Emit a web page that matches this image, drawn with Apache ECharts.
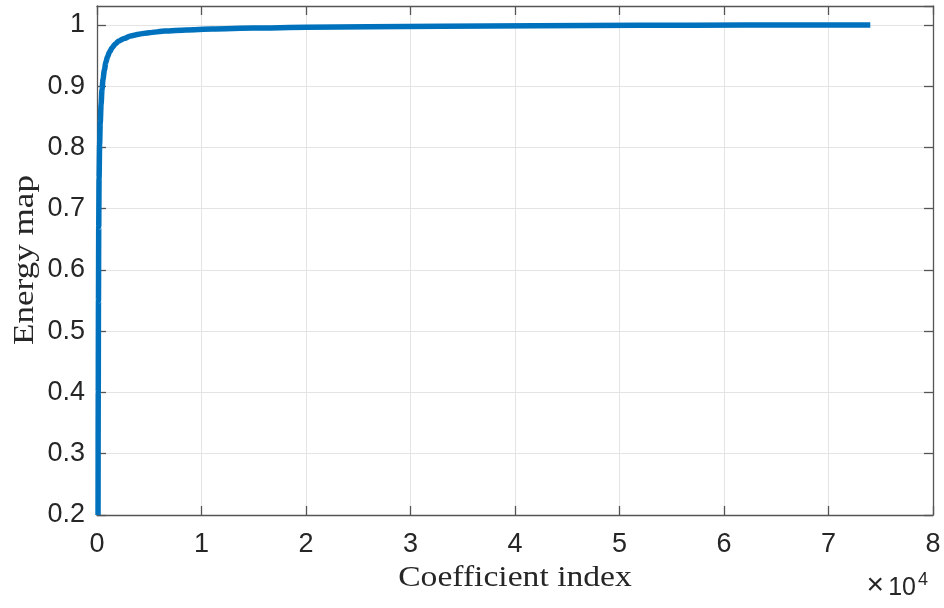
<!DOCTYPE html>
<html>
<head>
<meta charset="utf-8">
<script src="https://cdn.jsdelivr.net/npm/echarts@6/dist/echarts.min.js"></script>
<style>
  html, body { margin: 0; padding: 0; background: #ffffff; }
  #chart { width: 944px; height: 608px; }
</style>
</head>
<body>
<div id="chart"></div>
<script>
// Cumulative energy captured by the sorted coefficients
const coefficientIndex = [100, 120, 140, 165, 200, 250, 310, 390, 480, 580, 700, 850, 1000, 1200, 1450, 1750, 2100, 2600, 3200, 4000, 5000, 6500, 8500, 11000, 15000, 20000, 26000, 33000, 42000, 52000, 62000, 74000];
const energyMap        = [0.2, 0.4, 0.55, 0.67, 0.75, 0.805, 0.84, 0.87, 0.895, 0.912, 0.926, 0.939, 0.948, 0.956, 0.963, 0.969, 0.974, 0.978, 0.982, 0.985, 0.9875, 0.99, 0.992, 0.9935, 0.995, 0.9962, 0.9972, 0.998, 0.9988, 0.9994, 0.9998, 1.0];

// Axis ranges and tick steps (x is in units of coefficients, labelled in 10^4)
const xTicks = { min: 0, max: 80000, step: 10000 };
const yTicks = { min: 0.2, max: 1.031, step: 0.1 };

const axisColor = '#555555';
const gridColor = '#e4e4e4';
const tickFont = { fontFamily: 'Liberation Sans, Arial, sans-serif', fontSize: 27, color: '#262626' };

const chart = echarts.init(document.getElementById('chart'), null, { renderer: 'canvas' });

const isStep = (v, step) => Math.abs(v / step - Math.round(v / step)) < 1e-6;

const commonX = {
  type: 'value', min: xTicks.min, max: xTicks.max, interval: xTicks.step,
  axisLine: { show: true, onZero: false, lineStyle: { color: axisColor, width: 1.3 } },
  axisTick: { show: true, inside: true, length: 9, lineStyle: { color: axisColor, width: 1.3 } }
};
const commonY = {
  type: 'value', min: yTicks.min, max: yTicks.max, interval: yTicks.step,
  axisLine: { show: true, onZero: false, lineStyle: { color: axisColor, width: 1.3 } },
  axisTick: { show: true, inside: true, length: 9, lineStyle: { color: axisColor, width: 1.3 } }
};

chart.setOption({
  animation: false,
  backgroundColor: '#ffffff',
  grid: { left: 97, right: 11, top: 6, bottom: 93, containLabel: false },
  xAxis: [
    Object.assign({}, commonX, {
      position: 'bottom',
      splitLine: { show: true, lineStyle: { color: gridColor, width: 1 } },
      axisLabel: Object.assign({}, tickFont, {
        margin: 16,
        formatter: v => isStep(v, xTicks.step) ? String(v / 10000) : ''
      })
    }),
    Object.assign({}, commonX, {
      position: 'top',
      splitLine: { show: false },
      axisLabel: { show: false }
    })
  ],
  yAxis: [
    Object.assign({}, commonY, {
      position: 'left',
      splitLine: { show: true, lineStyle: { color: gridColor, width: 1 } },
      axisLabel: Object.assign({}, tickFont, {
        margin: 12,
        showMaxLabel: false,
        formatter: v => {
          if (!isStep(v, yTicks.step) || v > 1.0001) return '';
          return v === 1 ? '1' : v.toFixed(1);
        }
      })
    }),
    Object.assign({}, commonY, {
      position: 'right',
      splitLine: { show: false },
      axisLabel: { show: false }
    })
  ],
  series: [{
    type: 'line',
    xAxisIndex: 0,
    yAxisIndex: 0,
    data: coefficientIndex.map((x, i) => [x, energyMap[i]]),
    showSymbol: false,
    smooth: 0.25,
    smoothMonotone: 'x',
    clip: true,
    lineStyle: { color: '#0072BD', width: 5.5, cap: 'butt', join: 'round' },
    z: 5
  }],
  graphic: [
    {
      type: 'text',
      x: 515, y: 578,
      scaleX: 1.12,
      style: {
        text: 'Coefficient index',
        font: '30px "Liberation Serif", "Times New Roman", serif',
        fill: '#262626',
        align: 'center',
        verticalAlign: 'middle'
      }
    },
    {
      type: 'text',
      x: 25, y: 260,
      rotation: Math.PI / 2,
      scaleX: 1.17,
      style: {
        text: 'Energy map',
        font: '30px "Liberation Serif", "Times New Roman", serif',
        fill: '#262626',
        align: 'center',
        verticalAlign: 'middle'
      }
    },
    {
      type: 'text',
      x: 884, y: 601,
      style: {
        text: '×',
        font: '30px "Liberation Sans", Arial, sans-serif',
        fill: '#262626',
        align: 'right',
        verticalAlign: 'bottom'
      }
    },
    {
      type: 'text',
      x: 916, y: 601,
      style: {
        text: '10',
        font: '25px "Liberation Sans", Arial, sans-serif',
        fill: '#262626',
        align: 'right',
        verticalAlign: 'bottom'
      }
    },
    {
      type: 'text',
      x: 918, y: 589,
      style: {
        text: '4',
        font: '18px "Liberation Sans", Arial, sans-serif',
        fill: '#262626',
        align: 'left',
        verticalAlign: 'bottom'
      }
    }
  ]
});
</script>
</body>
</html>
